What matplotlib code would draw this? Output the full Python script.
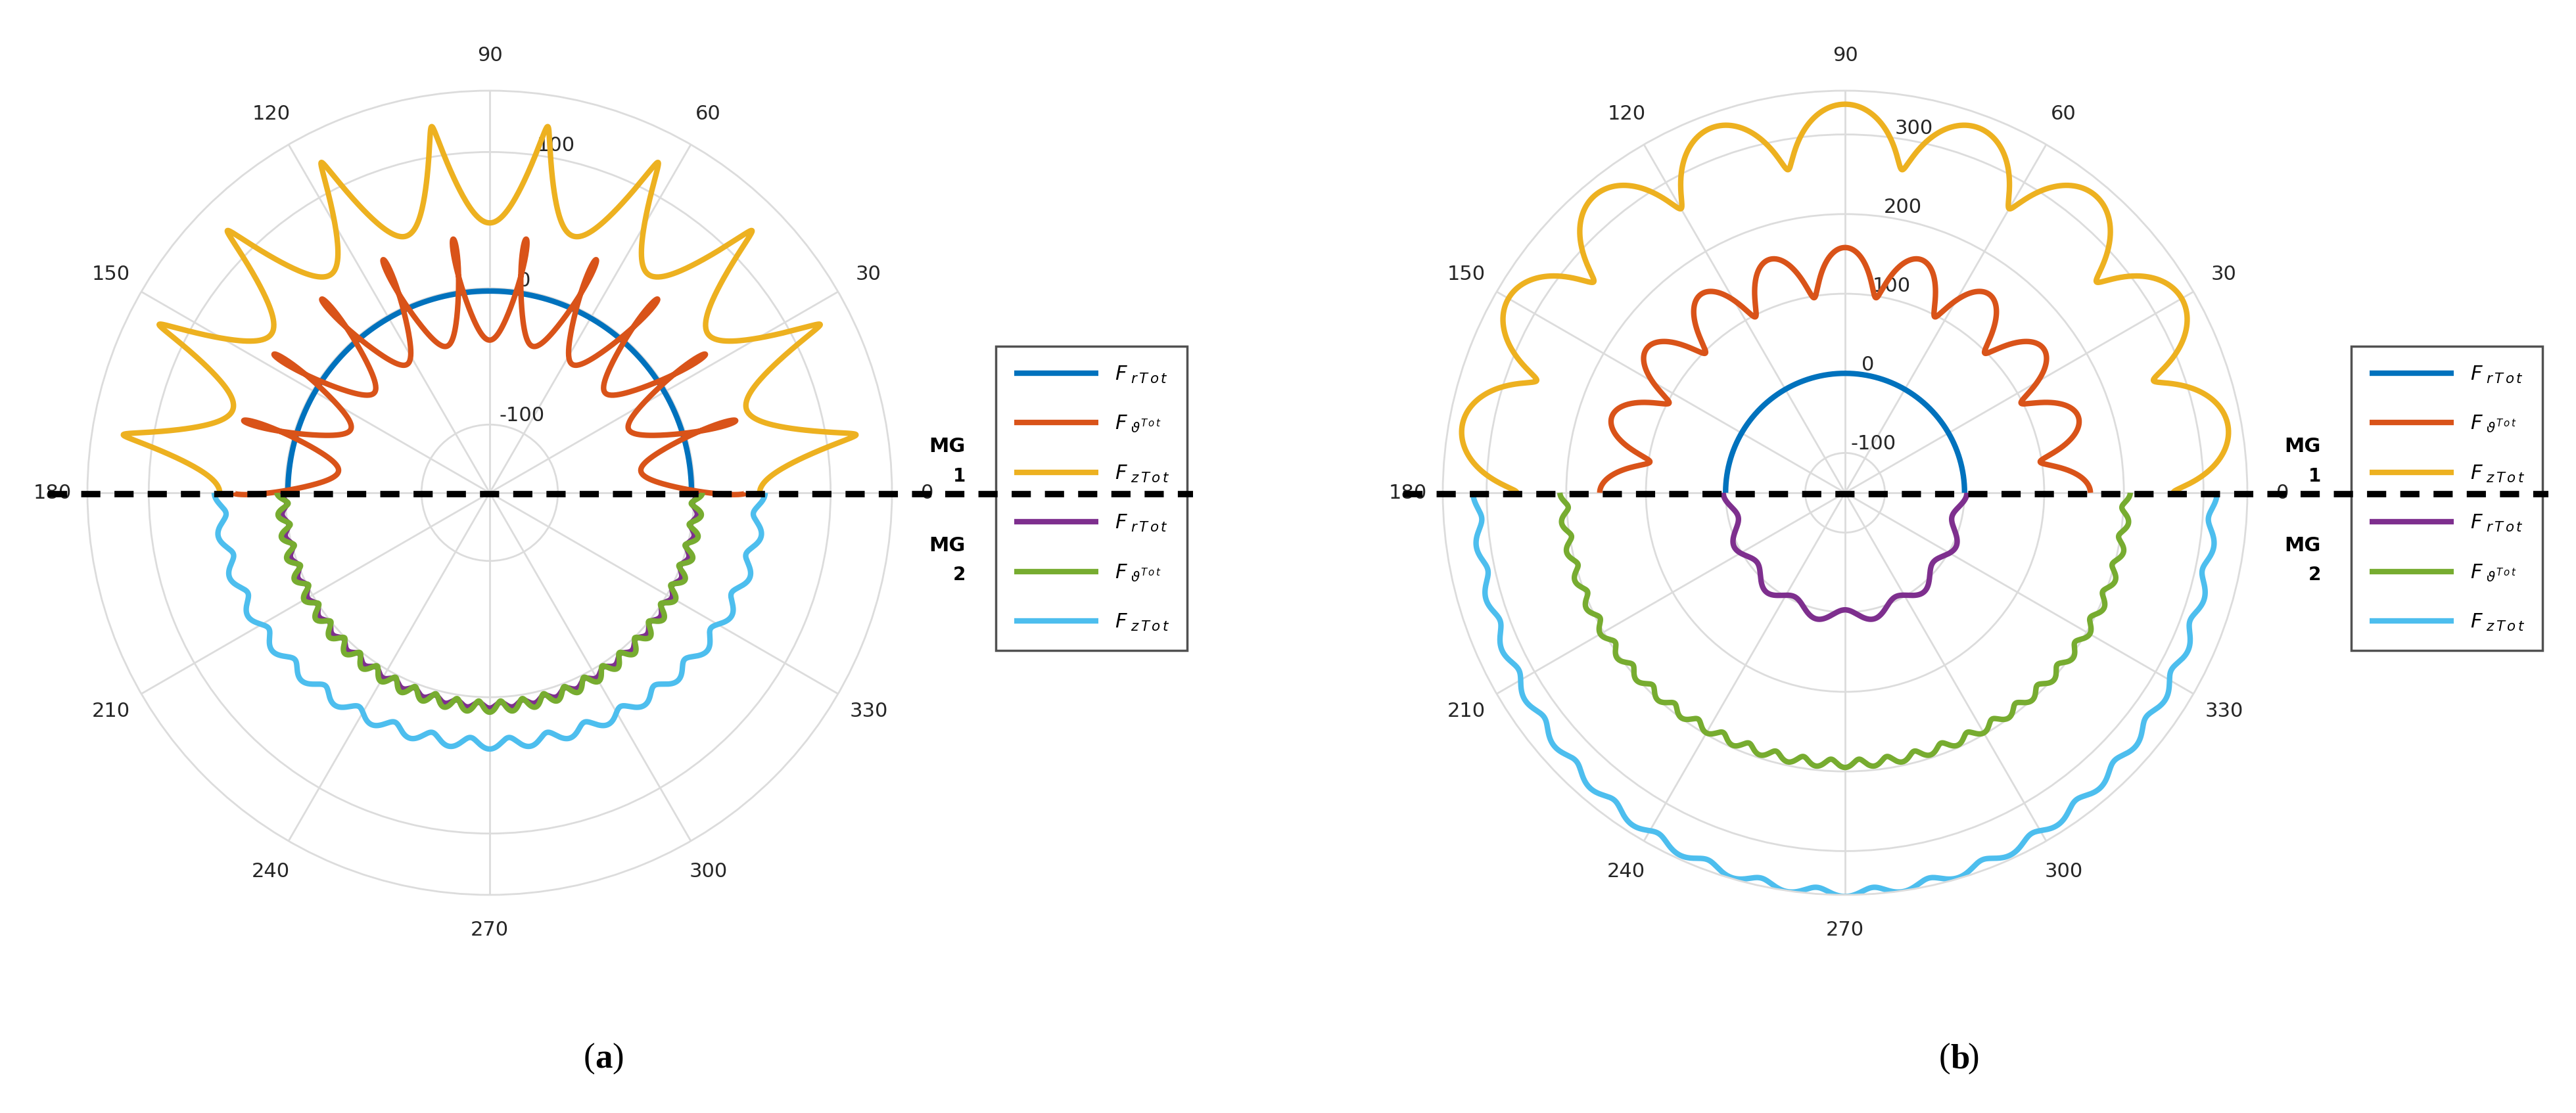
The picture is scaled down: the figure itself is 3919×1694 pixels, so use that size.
import numpy as np
import matplotlib
matplotlib.use("Agg")
import matplotlib.pyplot as plt
from matplotlib.lines import Line2D

plt.rcParams['axes.unicode_minus'] = False

# ---- data ----
series_labels = [r'$F_{\ r\,T\,o\,t}$', r'$F_{\ \vartheta^{T\,o\,t}}$', r'$F_{\ z\,T\,o\,t}$',
                 r'$F_{\ r\,T\,o\,t}$', r'$F_{\ \vartheta^{T\,o\,t}}$', r'$F_{\ z\,T\,o\,t}$']
colors = ['#0072BD', '#D95319', '#EDB120', '#7E2F8E', '#77AC30', '#4DBEEE']
theta_ticks = [0, 30, 60, 90, 120, 150, 180, 210, 240, 270, 300, 330]
half = [0, 0, 0, 1, 1, 1]

# mean radius, ripple amplitude, ripples per half turn, angular wobble (deg),
# value at 90/270 deg (+1 peak, -1 trough), extra radius at the ends (0/180 deg)
a_mean = [-2, 0, 85, 6, 7, 34]
a_amp = [0, 38, 37, 2, 4, 4]
a_count = [0, 11, 10, 30, 30, 20]
a_wobble = [0, 3.5, 2.2, 0.1, 0.25, 0.25]
a_sign = [1, -1, -1, 1, 1, 1]
a_bulge = [0, 0, 0, -5, -5, 14]
a_rlim = [-150, 145]
a_rticks = [-100, 0, 100]

b_mean = [0, 128, 300, 5, 190, 352]
b_amp = [0, 30, 38, 8, 5, 5]
b_count = [0, 10, 9, 7, 30, 22]
b_wobble = [0, 1.6, 2.2, 0, 0.2, 0.2]
b_sign = [1, 1, 1, -1, 1, 1]
b_bulge = [0, 0, 0, -10, 13, -40]
b_rlim = [-150, 355]
b_rticks = [-100, 0, 100, 200, 300]

W, H = 3919, 1694
fig = plt.figure(figsize=(W / 100, H / 100), dpi=100)

def panel(cx, means, amps, counts, wobbles, signs, bulges, rlim, rticks, tag):
    R = 612
    ax = fig.add_axes([(cx - R) / W, (H - 750 - R) / H, 2 * R / W, 2 * R / H], projection='polar')
    handles = []
    for i in range(6):
        t = np.linspace(0, np.pi, 1500) + half[i] * np.pi
        ph = 2 * counts[i] * (t - np.pi / 2 - half[i] * np.pi)
        th = t + np.deg2rad(wobbles[i]) * np.sin(ph)
        r = means[i] + signs[i] * amps[i] * np.cos(ph) + bulges[i] * np.cos(t) ** 2
        h, = ax.plot(th, r, color=colors[i], lw=6, solid_capstyle='butt')
        handles.append(h)
    ax.set_rlim(rlim)
    ax.set_rticks(rticks)
    ax.set_rlabel_position(82)
    ax.set_thetagrids(theta_ticks, [str(v) for v in theta_ticks], fontsize=22, color='#262626')
    ax.tick_params(axis='x', pad=28)
    ax.tick_params(axis='y', labelsize=22, labelcolor='#262626')
    ax.grid(color='#DCDCDC', lw=2)
    ax.spines['polar'].set_color('#DCDCDC')
    ax.spines['polar'].set_linewidth(2)
    leg = fig.legend(handles, series_labels, loc='upper left',
                     bbox_to_anchor=((cx + 755) / W, 1 - 512 / H), fontsize=22,
                     frameon=True, fancybox=False, edgecolor='#262626', handlelength=4.2,
                     labelspacing=1.45, borderpad=0.9)
    leg.get_frame().set_linewidth(2.5)
    leg.set_zorder(1)
    x0 = (cx - 612 - 60) / W
    x1 = min((cx + 1070) / W, 1.0)
    fig.add_artist(Line2D([x0, x1], [1 - 752 / H] * 2, color='black', lw=7,
                          ls=(0, (3, 2.2)), zorder=10))
    for y, n in ((680, '1'), (830, '2')):
        fig.text((cx + 668) / W, 1 - y / H, 'MG', fontsize=22, fontweight='bold', ha='left', va='center')
        fig.text((cx + 705) / W, 1 - (y + 45) / H, n, fontsize=20, fontweight='bold', ha='left', va='center')
    fig.text((cx + 160) / W, 1 - 1612 / H, '(', family='Liberation Serif', fontsize=38, ha='right', va='center')
    fig.text((cx + 160) / W, 1 - 1612 / H, tag, family='Liberation Serif', fontsize=38, fontweight='bold', ha='left', va='center')
    fig.text((cx + 160 + 26) / W, 1 - 1612 / H, ')', family='Liberation Serif', fontsize=38, ha='left', va='center')

panel(745, a_mean, a_amp, a_count, a_wobble, a_sign, a_bulge, a_rlim, a_rticks, 'a')
panel(2807, b_mean, b_amp, b_count, b_wobble, b_sign, b_bulge, b_rlim, b_rticks, 'b')

fig.savefig('out.png', dpi=100)
